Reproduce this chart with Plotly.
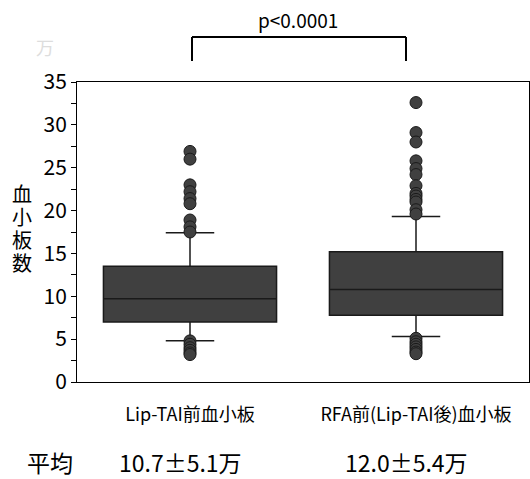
import plotly.graph_objects as go

categories = ["Lip-TAI前血小板", "RFA前(Lip-TAI後)血小板"]
q1 = [7.0, 7.8]
median = [9.7, 10.8]
q3 = [13.5, 15.2]
lowerfence = [4.8, 5.3]
upperfence = [17.4, 19.3]

outliers_1 = [26.9, 26.0, 23.0, 22.2, 21.4, 20.8, 18.9, 18.1, 17.5,
              4.8, 4.4, 4.0, 3.7, 3.4, 3.2]
outliers_2 = [32.6, 29.1, 28.0, 25.8, 24.9, 24.2, 22.9, 22.0, 21.7, 21.3,
              21.0, 20.1, 19.6, 5.1, 4.7, 4.4, 4.1, 3.8, 3.5, 3.3]

means_text = ["10.7±5.1万", "12.0±5.4万"]
p_text = "p<0.0001"
y_title_chars = ["血", "小", "板", "数"]

FONT = "Noto Sans CJK JP"
BOX_FILL = "#404040"

fig = go.Figure()
fig.add_trace(go.Box(
    x=categories, q1=q1, median=median, q3=q3,
    lowerfence=lowerfence, upperfence=upperfence,
    boxpoints=False, width=0.766, whiskerwidth=0.28,
    fillcolor=BOX_FILL, line=dict(color="#1a1a1a", width=1.5),
    showlegend=False, hoverinfo="skip",
))
for cat, vals in zip(categories, [outliers_1, outliers_2]):
    fig.add_trace(go.Scatter(
        x=[cat] * len(vals), y=vals, mode="markers",
        marker=dict(size=12, color=BOX_FILL, line=dict(color="#1a1a1a", width=1)),
        showlegend=False, hoverinfo="skip",
    ))

fig.update_layout(
    width=530, height=479,
    margin=dict(l=77, r=1, t=82, b=97),
    paper_bgcolor="white", plot_bgcolor="white",
    font=dict(family=FONT, color="black"),
)
fig.update_xaxes(
    type="category", categoryorder="array", categoryarray=categories,
    range=[-0.5, 1.5], showline=True, linecolor="black", linewidth=1,
    mirror=True, ticks="", showgrid=False, zeroline=False, automargin=False,
    tickfont=dict(size=18, family=FONT), ticklabelstandoff=16,
)
fig.update_yaxes(
    range=[0, 35], dtick=5, tick0=0, showline=True, linecolor="black",
    linewidth=1, mirror="ticks", ticks="outside", ticklen=5, tickcolor="black",
    minor=dict(dtick=2.5, ticks="outside", ticklen=5, tickcolor="black"),
    showgrid=False, zeroline=False, automargin=False,
    tickfont=dict(size=21, family=FONT),
)

ann = []
for i, ch in enumerate(y_title_chars):
    ann.append(dict(x=(22 - 77) / 452, y=(382 - (193 + 23 * i)) / 300, xref="paper", yref="paper",
                    text=ch, showarrow=False, font=dict(size=20, family=FONT),
                    height=22, valign="middle", xanchor="center", yanchor="middle"))
ann.append(dict(x=(45 - 77) / 452, y=(382 - 47) / 300, xref="paper", yref="paper", text="万",
                showarrow=False, font=dict(size=18, family=FONT, color="#dddddd"),
                xanchor="center", yanchor="middle"))
ann.append(dict(x=(298 - 77) / 452, y=(382 - 19) / 300, xref="paper", yref="paper",
                text=p_text, showarrow=False, font=dict(size=19, family=FONT),
                xanchor="center", yanchor="middle"))
ann.append(dict(x=(50 - 77) / 452, y=(382 - 462) / 300, xref="paper", yref="paper",
                text="平均", showarrow=False, font=dict(size=23, family=FONT),
                xanchor="center", yanchor="middle"))
for cx, t in zip([180, 406], means_text):
    ann.append(dict(x=(cx - 77) / 452, y=(382 - 462) / 300, xref="paper", yref="paper",
                    text=t, showarrow=False, font=dict(size=23, family=FONT),
                    xanchor="center", yanchor="middle"))
fig.update_layout(annotations=ann)

yb_top = (382 - 37) / 300
yb_bot = (382 - 61) / 300
xa, xb = (192 - 77) / 452, (406 - 77) / 452
line = dict(color="black", width=2)
fig.add_shape(type="line", xref="paper", yref="paper", x0=xa, x1=xb, y0=yb_top, y1=yb_top, line=line)
fig.add_shape(type="line", xref="paper", yref="paper", x0=xa, x1=xa, y0=yb_top, y1=yb_bot, line=line)
fig.add_shape(type="line", xref="paper", yref="paper", x0=xb, x1=xb, y0=yb_top, y1=yb_bot, line=line)

fig.write_html("out.html", config={"displayModeBar": False},
               post_script="document.body.style.margin='0';document.body.style.padding='0';")
